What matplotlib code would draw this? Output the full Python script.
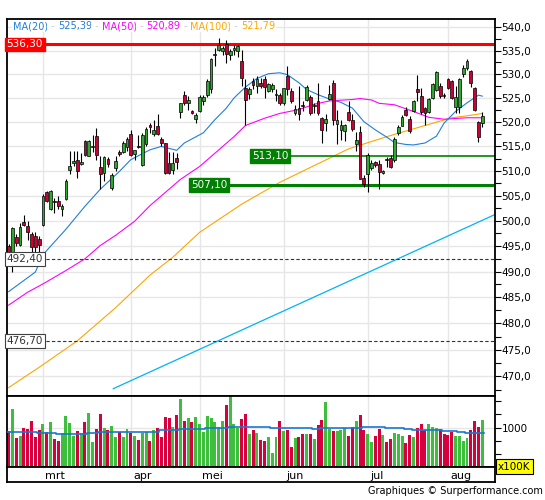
import matplotlib
matplotlib.use("Agg")
import matplotlib.pyplot as plt
from matplotlib.ticker import FixedLocator, FuncFormatter, NullFormatter, FixedFormatter
from matplotlib.transforms import blended_transform_factory

# ---- data (trading-day index 0 = 16 Feb 2017) ----
opens = [495.1, 493.7, 496.7, 495.3, 499.8, 498.9, 497.4, 496.9, 496.4, 499.1,
         505.8, 502.3, 504.0, 504.0, 502.3, 504.3, 510.2, 511.6, 512.3, 511.5,
         516.2, 513.1, 514.8, 517.2, 510.8, 509.6, 512.5, 506.5, 510.6, 513.8,
         513.8, 514.9, 517.5, 513.5, 515.1, 511.3, 515.4, 519.5, 517.5, 519.2,
         516.5, 515.6, 511.6, 510.1, 512.7, 522.2, 525.7, 523.9, 522.4, 520.7,
         522.3, 524.4, 525.7, 526.8, 534.1, 535.2, 535.0, 536.4, 534.1, 535.2,
         534.9, 532.8, 527.1, 525.9, 528.5, 527.6, 528.2, 528.9, 526.5, 526.8,
         525.6, 525.7, 523.9, 529.7, 526.4, 521.8, 523.0, 523.5, 524.6, 525.3,
         523.3, 524.3, 520.8, 519.9, 524.7, 528.2, 519.6, 518.4, 518.1, 522.0,
         520.4, 515.4, 518.0, 508.6, 509.3, 510.6, 511.8, 511.5, 509.6, 512.4,
         512.6, 512.3, 517.7, 519.3, 522.6, 520.7, 522.4, 526.8, 525.5, 522.9,
         522.1, 525.0, 526.6, 527.6, 525.6, 528.9, 528.5, 523.2, 523.2, 530.1,
         531.3, 530.6, 527.1, 520.1, 519.9]
highs = [495.4, 498.8, 497.4, 499.5, 501.1, 499.9, 497.7, 497.7, 496.9, 505.3,
         506.0, 506.2, 504.6, 505.0, 503.3, 508.3, 514.1, 514.0, 514.0, 513.6,
         516.4, 516.4, 517.4, 518.7, 513.0, 513.0, 512.9, 509.6, 513.0, 514.3,
         516.1, 517.0, 518.4, 514.3, 517.4, 517.7, 519.0, 519.8, 520.5, 521.6,
         516.9, 515.7, 513.8, 513.8, 513.6, 524.0, 526.4, 525.4, 522.6, 521.9,
         525.7, 525.7, 528.9, 533.4, 535.6, 537.6, 535.9, 537.3, 535.3, 536.2,
         536.2, 535.2, 528.9, 527.4, 529.2, 529.6, 529.2, 529.6, 528.2, 528.1,
         526.8, 526.1, 527.2, 531.7, 527.1, 523.6, 527.6, 524.4, 527.8, 525.7,
         524.0, 528.2, 521.1, 521.6, 527.8, 528.7, 522.6, 520.5, 519.7, 524.4,
         521.6, 518.0, 519.2, 509.1, 513.7, 512.3, 512.0, 512.3, 510.1, 512.8,
         513.2, 516.9, 519.5, 521.4, 523.1, 521.3, 524.6, 529.9, 527.1, 523.2,
         525.0, 528.2, 530.6, 528.2, 526.1, 529.2, 528.8, 527.6, 529.2, 532.0,
         533.2, 530.8, 527.4, 520.3, 522.0]
lows = [493.7, 489.9, 495.0, 495.0, 498.9, 496.1, 491.2, 493.8, 492.4, 498.9,
        503.8, 502.2, 501.6, 502.3, 501.0, 504.2, 509.3, 511.0, 508.5, 511.3,
        513.1, 513.0, 513.9, 512.3, 506.3, 508.0, 510.9, 506.2, 510.0, 513.0,
        513.6, 514.1, 513.1, 512.3, 514.6, 511.0, 515.0, 517.8, 517.2, 517.4,
        515.0, 509.3, 509.3, 509.3, 510.3, 520.9, 523.6, 522.6, 521.6, 519.8,
        522.1, 523.6, 525.3, 526.1, 531.7, 535.0, 534.1, 532.3, 532.9, 534.1,
        533.7, 527.5, 519.5, 524.7, 526.8, 526.1, 527.2, 525.0, 526.3, 526.3,
        524.3, 523.6, 523.6, 525.7, 523.9, 521.4, 520.4, 522.3, 524.4, 521.4,
        521.9, 521.4, 515.6, 518.1, 524.6, 519.5, 515.4, 516.4, 516.1, 520.2,
        518.1, 514.0, 508.3, 506.8, 505.8, 510.1, 510.9, 506.3, 509.4, 510.8,
        510.6, 511.9, 517.3, 519.1, 521.2, 517.8, 522.0, 524.4, 521.6, 519.5,
        521.8, 524.7, 526.4, 525.0, 525.0, 526.8, 524.7, 521.9, 521.9, 529.5,
        530.8, 527.3, 522.4, 516.0, 519.0]
closes = [493.9, 498.6, 495.6, 498.8, 499.2, 497.7, 494.9, 494.9, 495.3, 505.0,
          504.0, 506.0, 503.7, 503.0, 503.0, 508.0, 511.1, 512.0, 510.0, 511.8,
          513.3, 516.2, 515.1, 513.3, 509.3, 512.8, 511.4, 509.2, 512.0, 513.5,
          515.7, 516.5, 513.3, 514.2, 514.8, 517.4, 518.5, 518.9, 518.4, 517.5,
          515.6, 509.5, 509.5, 511.6, 511.9, 523.9, 523.9, 524.6, 521.9, 521.4,
          525.3, 525.3, 528.5, 533.2, 534.3, 536.2, 535.5, 534.3, 534.9, 535.5,
          535.9, 529.3, 524.5, 526.9, 527.8, 528.9, 527.6, 527.3, 527.9, 527.8,
          525.9, 523.9, 527.0, 526.8, 524.3, 522.8, 521.6, 523.3, 527.4, 521.9,
          523.5, 521.9, 518.3, 520.6, 525.9, 520.5, 520.5, 519.5, 519.5, 520.5,
          518.5, 516.4, 508.4, 507.3, 513.2, 511.6, 511.3, 509.8, 510.0, 512.2,
          510.9, 516.5, 519.0, 521.0, 521.4, 518.1, 524.4, 526.3, 522.1, 521.9,
          524.7, 528.0, 530.4, 525.5, 525.4, 527.1, 525.0, 525.3, 529.0, 531.3,
          532.7, 528.1, 522.5, 517.0, 521.2]
volumes = [944, 1360, 805, 849, 1000, 982, 1133, 830, 963, 1070,
           919, 1114, 792, 754, 893, 1228, 1089, 849, 944, 906,
           1114, 1285, 729, 982, 1266, 1000, 956, 1038, 830, 925,
           830, 982, 906, 849, 773, 906, 925, 754, 956, 1000,
           830, 1203, 1184, 1019, 1241, 1531, 1133, 1190, 1114, 1203,
           1076, 925, 1222, 1184, 1114, 1019, 1133, 1417, 1600, 1070,
           1000, 1171, 1266, 887, 956, 906, 773, 748, 830, 521,
           830, 1133, 944, 956, 641, 805, 830, 881, 881, 881,
           786, 1051, 1152, 1486, 982, 937, 944, 963, 994, 843,
           1019, 1127, 1241, 956, 881, 729, 843, 975, 862, 729,
           780, 900, 881, 836, 710, 862, 824, 1000, 1070, 956,
           1070, 1019, 1000, 975, 887, 862, 919, 849, 849, 748,
           811, 956, 1127, 1019, 1146]

ma20_idx = [0, 7, 9, 15, 20, 24, 29, 32, 37, 40, 44, 46, 51, 54, 57, 59, 62, 65, 68, 71,
            73, 76, 78, 81, 84, 87, 90, 93, 96, 99, 101, 104, 106, 109, 112, 114, 117, 120, 123, 124]
ma20_val = [486.1, 489.9, 493.3, 498.3, 502.9, 506.3, 509.9, 512.3, 514.3, 515.0,
            514.2, 515.7, 517.8, 520.5, 522.9, 525.0, 527.3, 529.1, 530.1, 530.3,
            529.9, 528.2, 526.8, 525.7, 524.8, 524.1, 522.9, 520.1, 518.4, 516.9,
            515.8, 515.4, 515.3, 515.7, 517.1, 519.8, 522.2, 524.0, 525.6, 525.4]
ma50_idx = [0, 5, 9, 15, 20, 24, 28, 33, 37, 42, 45, 50, 54, 59, 62, 67, 71, 76, 80, 84,
            90, 92, 95, 97, 101, 106, 110, 114, 120, 124]
ma50_val = [483.5, 486.0, 487.6, 490.2, 492.5, 495.1, 497.1, 499.9, 503.0, 506.3,
            508.3, 510.9, 513.6, 517.0, 519.3, 520.8, 521.8, 522.6, 523.7, 524.4,
            524.7, 524.9, 524.6, 523.9, 523.6, 522.2, 521.0, 520.6, 520.9, 520.9]
ma100_idx = [0, 8, 18, 28, 37, 43, 50, 61, 71, 89, 99, 109, 116, 120, 124]
ma100_val = [467.9, 471.7, 476.7, 483.0, 489.3, 492.8, 497.7, 503.3, 507.7, 514.5,
             517.0, 519.3, 520.9, 521.3, 521.8]
trend_idx = [27.4, 127.2]
trend_val = [467.7, 501.2]

vol_ma_start = [0, 8, 13, 21, 24, 40, 45, 52, 58, 69, 73, 80, 82, 93, 99, 104, 106, 114, 118, 120]
vol_ma_level = [912, 893, 874, 893, 928, 950, 969, 988, 1007, 994, 988, 969, 994, 1013, 994,
                975, 956, 931, 912, 893]

month_idx = [9, 32, 50, 72, 94, 115]
month_labels = ["mrt", "apr", "mei", "jun", "jul", "aug"]

resistance = 536.30
supports = [513.10, 507.10]
support_from = [63.7, 47.7]
dashed_levels = [492.40, 476.70]
legend_items = [("MA(20)", "525,39", "#1f7fd8"), ("MA(50)", "520,89", "#ff00ff"),
                ("MA(100)", "521,79", "#ffa500")]

GREEN_C, RED_C = "#2ea82e", "#cc0033"
GREEN_V, RED_V = "#3dbf3d", "#d7003f"
GRID = "#e6e6e6"
XLIM = (-0.52, 127.2)


def fmt(v):
    return f"{v:.2f}".replace(".", ",")


W, H = 545, 500
fig = plt.figure(figsize=(W / 100, H / 100), dpi=100)
plt.rcParams["font.family"] = "DejaVu Sans"

ax = fig.add_axes([6.6 / W, 1 - 395.7 / H, 487.9 / W, 376.4 / H])
axv = fig.add_axes([6.6 / W, 1 - 467.3 / H, 487.9 / W, 71.6 / H])
axd = fig.add_axes([6.6 / W, 1 - 482.3 / H, 487.9 / W, 15.0 / H])

for a in (ax, axv, axd):
    for s in a.spines.values():
        s.set_linewidth(1.3)
    a.set_xlim(*XLIM)
    a.set_xticks([])

# ---- price panel ----
ax.set_yscale("log")
ax.set_ylim(466.4, 541.7)
majors = list(range(470, 541, 5))
ax.yaxis.set_major_locator(FixedLocator(majors))
ax.yaxis.set_minor_locator(FixedLocator([m + 2.5 for m in majors[:-1]] + [467.5]))
ax.yaxis.set_major_formatter(FuncFormatter(lambda v, p: f"{v:.1f}".replace(".", ",")))
ax.yaxis.set_minor_formatter(NullFormatter())
ax.yaxis.tick_right()
ax.tick_params(axis="y", which="both", direction="out", length=4, width=0.8, pad=1, labelsize=7.5)
for m in majors:
    ax.axhline(m, color=GRID, lw=1, zorder=0)
for m in month_idx:
    ax.axvline(m, color=GRID, lw=1, zorder=0)
    axv.axvline(m, color=GRID, lw=1, zorder=0)

ax.plot(trend_idx, trend_val, color="#00b4f0", lw=0.9, zorder=2)
ax.plot(ma100_idx, ma100_val, color="#ffa500", lw=0.8, zorder=2)
ax.plot(ma50_idx, ma50_val, color="#ff00ff", lw=0.8, zorder=2)
ax.plot(ma20_idx, ma20_val, color="#1f7fd8", lw=0.8, zorder=2)

trans = blended_transform_factory(ax.transAxes, ax.transData)
ax.axhline(resistance, color="#ff0000", lw=2.2, zorder=2)
ax.text(0.0, resistance, fmt(resistance), transform=trans, ha="left", va="center",
        fontsize=7.5, color="white", zorder=6,
        bbox=dict(boxstyle="square,pad=0.18", fc="#ff0000", ec="#ff0000"))
for lvl, x0, lw in zip(supports, support_from, [1.2, 2.2]):
    ax.plot([x0, XLIM[1]], [lvl, lvl], color="#008000", lw=lw, zorder=2)
    ax.text(x0, lvl, fmt(lvl), ha="left", va="center", fontsize=7.5, color="white", zorder=6,
            bbox=dict(boxstyle="square,pad=0.18", fc="#008000", ec="#008000"))
for lvl in dashed_levels:
    ax.axhline(lvl, color="#333333", lw=0.8, ls=(0, (3, 2)), zorder=2)
    ax.text(0.0, lvl, fmt(lvl), transform=trans, ha="left", va="center", fontsize=7.5,
            color="#333333", zorder=6,
            bbox=dict(boxstyle="square,pad=0.18", fc="white", ec="#404040", lw=0.8))

# candles
xs = list(range(len(closes)))
ax.vlines(xs, lows, highs, color="black", lw=0.8, zorder=4)
for i, (o, c) in enumerate(zip(opens, closes)):
    lo, hi = min(o, c), max(o, c)
    if hi - lo < 0.25:
        hi = lo + 0.25
    ax.bar(i, hi - lo, bottom=lo, width=0.72, color=GREEN_C if c >= o else RED_C,
           edgecolor="black", linewidth=0.5, zorder=5)

# legend row
pieces = []
for k, (name, val, col) in enumerate(legend_items):
    pieces += [(name, col), (" - ", "#c8c8c8"), (val, col)]
    if k < len(legend_items) - 1:
        pieces.append((" - ", "#c8c8c8"))
t = None
for piece, c in pieces:
    box = dict(boxstyle="square,pad=0.1", fc="white", ec="none")
    if t is None:
        t = ax.text(0.013, 0.981, piece, transform=ax.transAxes, color=c, fontsize=7.0,
                    ha="left", va="center", zorder=7, bbox=box)
    else:
        t = ax.annotate(piece, xy=(1, 0), xycoords=t, va="bottom", ha="left",
                        color=c, fontsize=7.0, zorder=7, bbox=box)

# ---- volume panel ----
vcols = [GREEN_V if c >= o else RED_V for o, c in zip(opens, closes)]
axv.bar(xs, volumes, width=0.78, color=vcols, zorder=2)
axv.set_ylim(256, 1601)
axv.axhline(1000, color=GRID, lw=1, zorder=0)
steps_x, steps_y = [], []
ends = vol_ma_start[1:] + [len(closes)]
for s, e, lv in zip(vol_ma_start, ends, vol_ma_level):
    steps_x += [s - 0.5, e - 0.5]
    steps_y += [lv, lv]
axv.plot(steps_x, steps_y, color="#1a78d0", lw=1.2, zorder=3)
axv.yaxis.tick_right()
axv.yaxis.set_major_locator(FixedLocator([500, 750, 1000, 1250, 1500]))
axv.yaxis.set_major_formatter(FixedFormatter(["", "", "1000", "", ""]))
axv.tick_params(axis="y", direction="out", length=4, width=0.8, pad=1, labelsize=7.5)
fig.text(498 / W, 1 - 466.5 / H, "x100K", ha="left", va="center", fontsize=7.5,
         bbox=dict(boxstyle="square,pad=0.2", fc="#ffff00", ec="black", lw=0.8))

# ---- date strip ----
axd.set_ylim(0, 1)
axd.set_yticks([])
for m, lab in zip(month_idx, month_labels):
    axd.text(m + 0.6, 0.45, lab, ha="left", va="center", fontsize=8)

fig.text(0.996, 1 - 491 / H, "Graphiques \u00a9 Surperformance.com", ha="right", va="center",
         fontsize=7.0)

fig.savefig("out.png", dpi=100, facecolor="white")
